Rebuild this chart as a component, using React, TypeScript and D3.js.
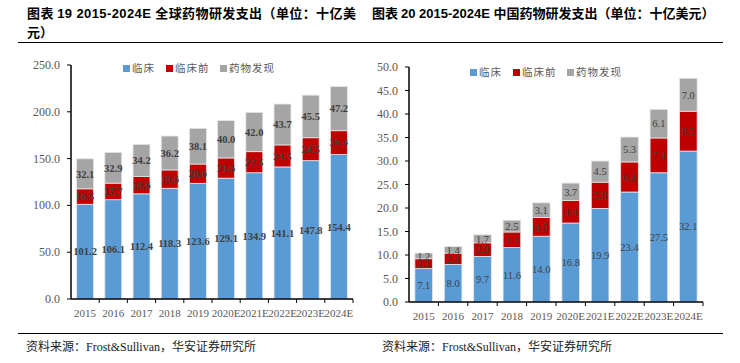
import React from 'react'
import * as d3 from 'd3'

const years = ['2015', '2016', '2017', '2018', '2019', '2020E', '2021E', '2022E', '2023E', '2024E']

// global R&D (billion USD)
const globalClinical = [101.2, 106.1, 112.4, 118.3, 123.6, 129.1, 134.9, 141.1, 147.8, 154.4]
const globalPreclinical = [16.5, 17.7, 18.6, 19.6, 20.6, 21.6, 22.5, 23.5, 24.5, 25.4]
const globalDiscovery = [32.1, 32.9, 34.2, 36.2, 38.1, 40.0, 42.0, 43.7, 45.5, 47.2]

// china R&D (billion USD)
const chinaClinical = [7.1, 8.0, 9.7, 11.6, 14.0, 16.8, 19.9, 23.4, 27.5, 32.1]
const chinaPreclinical = [2.1, 2.4, 2.9, 3.3, 4.0, 4.8, 5.6, 6.4, 7.4, 8.5]
const chinaDiscovery = [1.2, 1.4, 1.7, 2.5, 3.1, 3.7, 4.5, 5.3, 6.1, 7.0]

const seriesNames = ['临床', '临床前', '药物发现']
const seriesColors = ['#5B9BD5', '#C00000', '#A5A5A5']

const serif = '"Liberation Serif", "Times New Roman", "Noto Sans CJK SC", serif'
const cjk = '"Noto Sans CJK SC", sans-serif'

interface ChartProps {
  series: number[][]
  yMax: number
  yStep: number
  left: number
  right: number
  top: number
  bottom: number
  boldLabels: boolean
  legendX: number
  legendY: number
}

function StackedChart({ series, yMax, yStep, left, right, top, bottom, boldLabels, legendX, legendY }: ChartProps) {
  const x = d3.scaleBand<string>().domain(years).range([left, right]).paddingInner(0.4).paddingOuter(0.2)
  const y = d3.scaleLinear().domain([0, yMax]).range([bottom, top])
  const ticks = d3.range(0, yMax + yStep / 2, yStep)

  const rows = years.map((yr, i) => {
    const r: any = { year: yr }
    series.forEach((s, k) => (r['s' + k] = s[i]))
    return r
  })
  const stack = d3.stack<any>().keys(series.map((_, k) => 's' + k))(rows)
  const step = x.step()
  const legendOffsets = [0, 43, 97]

  return (
    <g>
      {stack.map((layer, k) =>
        layer.map((d, i) => {
          const x0 = x(years[i])!
          const y0 = y(d[1])
          const h = y(d[0]) - y(d[1])
          const val = series[k][i]
          return (
            <g key={k + '-' + i}>
              <rect x={x0} y={y0} width={x.bandwidth()} height={h} fill={seriesColors[k]} stroke="#e6e6e6" strokeWidth={0.8} />
              <text
                x={x0 + x.bandwidth() / 2}
                y={y0 + h / 2 + 3.8}
                textAnchor="middle"
                fontFamily={serif}
                fontSize={10.5}
                fontWeight={boldLabels ? 'bold' : 'normal'}
                fill="#404040"
              >
                {val.toFixed(1)}
              </text>
            </g>
          )
        }),
      )}
      {/* y axis */}
      <line x1={left} x2={left} y1={top} y2={bottom} stroke="#000" strokeWidth={1.5} />
      {ticks.map((t) => (
        <g key={t}>
          <line x1={left - 4} x2={left} y1={y(t)} y2={y(t)} stroke="#000" strokeWidth={1} />
          <text x={left - 11} y={y(t) + 4} textAnchor="end" fontFamily={serif} fontSize={12} fill="#595959">
            {t.toFixed(1)}
          </text>
        </g>
      ))}
      {/* x axis */}
      <line x1={left} x2={right} y1={bottom} y2={bottom} stroke="#000" strokeWidth={1.5} />
      {years.map((yr, i) => (
        <g key={yr}>
          <line x1={left + step * (i + 1)} x2={left + step * (i + 1)} y1={bottom} y2={bottom + 4} stroke="#000" strokeWidth={1} />
          <text x={x(yr)! + x.bandwidth() / 2} y={bottom + 18} textAnchor="middle" fontFamily={serif} fontSize={11} fill="#595959">
            {yr}
          </text>
        </g>
      ))}
      {/* legend */}
      {seriesNames.map((n, k) => (
        <g key={n} transform={`translate(${legendX + legendOffsets[k]},${legendY})`}>
          <rect x={0} y={-7} width={7} height={7} fill={seriesColors[k]} />
          <text x={9} y={0} fontFamily={cjk} fontSize={10.5} fill="#595959" letterSpacing={1}>
            {n}
          </text>
        </g>
      ))}
    </g>
  )
}

export default function App() {
  return (
    <svg width={740} height={363} style={{ position: 'absolute', left: 0, top: 0, background: '#fff' }}>
      <text x={27} y={18} fontFamily={cjk} fontSize={13} fontWeight="bold" fill="#000" letterSpacing={0.4}>
        <tspan>图表 </tspan>
        <tspan fontFamily='"Liberation Sans", Arial, sans-serif'>19 2015-2024E </tspan>
        <tspan>全球药物研发支出（单位：十亿美</tspan>
      </text>
      <text x={27} y={37} fontFamily={cjk} fontSize={13} fontWeight="bold" fill="#000">
        元）
      </text>
      <text x={372} y={18} fontFamily={cjk} fontSize={13} fontWeight="bold" fill="#000">
        <tspan>图表 </tspan>
        <tspan fontFamily='"Liberation Sans", Arial, sans-serif'>20 2015-2024E </tspan>
        <tspan>中国药物研发支出（单位：十亿美元）</tspan>
      </text>
      <line x1={18} x2={723} y1={42.5} y2={42.5} stroke="#000" strokeWidth={1.2} />

      <StackedChart
        series={[globalClinical, globalPreclinical, globalDiscovery]}
        yMax={250}
        yStep={50}
        left={71}
        right={353}
        top={65}
        bottom={299}
        boldLabels={true}
        legendX={123}
        legendY={72}
      />
      <StackedChart
        series={[chinaClinical, chinaPreclinical, chinaDiscovery]}
        yMax={50}
        yStep={5}
        left={409}
        right={703}
        top={67}
        bottom={302}
        boldLabels={false}
        legendX={470}
        legendY={76}
      />

      <line x1={18} x2={723} y1={333.5} y2={333.5} stroke="#000" strokeWidth={1.2} />
      <text x={26} y={351} fontFamily={serif} fontSize={12} fill="#222">
        资料来源：Frost&amp;Sullivan，华安证券研究所
      </text>
      <text x={382} y={351} fontFamily={serif} fontSize={12} fill="#222">
        资料来源：Frost&amp;Sullivan，华安证券研究所
      </text>
    </svg>
  )
}
